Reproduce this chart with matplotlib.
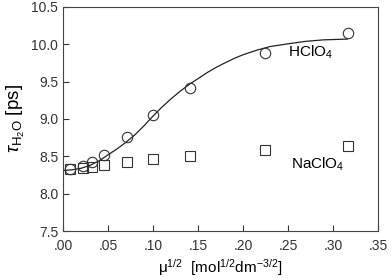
import matplotlib
matplotlib.use('Agg')
import matplotlib.pyplot as plt
from matplotlib.ticker import FuncFormatter

plt.rcParams['font.family'] = ['Liberation Sans', 'DejaVu Sans']
plt.rcParams['mathtext.fontset'] = 'custom'
plt.rcParams['mathtext.rm'] = 'Liberation Sans'
plt.rcParams['mathtext.it'] = 'Liberation Sans:italic'

# sqrt of ionic strength
mu_sqrt = [0.008, 0.022, 0.032, 0.045, 0.071, 0.100, 0.141, 0.224, 0.317]
tau_hclo4 = [8.33, 8.37, 8.42, 8.52, 8.76, 9.05, 9.41, 9.89, 10.15]
tau_naclo4 = [8.33, 8.34, 8.36, 8.39, 8.43, 8.46, 8.51, 8.59, 8.64]

# fitted curve for HClO4
fit_x = [0.0, 0.01, 0.02, 0.03, 0.04, 0.05, 0.06, 0.07, 0.08, 0.09, 0.10,
         0.11, 0.12, 0.13, 0.141, 0.15, 0.16, 0.17, 0.178, 0.19, 0.20,
         0.215, 0.23, 0.252, 0.27, 0.29, 0.316]
fit_y = [8.31, 8.32, 8.34, 8.38, 8.44, 8.52, 8.60, 8.69, 8.79, 8.91, 9.04,
         9.16, 9.27, 9.37, 9.47, 9.54, 9.62, 9.69, 9.74, 9.81, 9.86,
         9.92, 9.97, 10.01, 10.04, 10.06, 10.07]

x_ticks = [0.0, 0.05, 0.10, 0.15, 0.20, 0.25, 0.30, 0.35]
y_ticks = [7.5, 8.0, 8.5, 9.0, 9.5, 10.0, 10.5]

fig = plt.figure(figsize=(3.92, 2.79), dpi=100)
ax = fig.add_axes([0.161, 0.172, 0.803, 0.803])

ax.plot(fit_x, fit_y, color='#222222', lw=0.9)
ax.plot(mu_sqrt, tau_hclo4, 'o', ms=7.5, mfc='none', mec='#333333', mew=0.8)
ax.plot(mu_sqrt, tau_naclo4, 's', ms=7, mfc='none', mec='#333333', mew=0.8)

ax.text(0.250, 9.83, r'HClO$_4$', fontsize=11)
ax.text(0.253, 8.33, r'NaClO$_4$', fontsize=11)

ax.set_xlim(0, 0.35)
ax.set_ylim(7.5, 10.5)
ax.set_xticks(x_ticks)
ax.set_yticks(y_ticks)
ax.xaxis.set_major_formatter(FuncFormatter(lambda v, p: ('%.2f' % v)[1:]))
ax.yaxis.set_major_formatter(FuncFormatter(lambda v, p: '%.1f' % v))
ax.tick_params(direction='in', length=4, width=0.8, labelsize=10, colors='#333333')
ax.tick_params(axis='x', pad=6)
for s in ax.spines.values():
    s.set_linewidth(0.8)
    s.set_color('#444444')

ax.set_xlabel('μ$^{1/2}$  [mol$^{1/2}$dm$^{-3/2}$]', fontsize=11, labelpad=3)
ax.set_ylabel(r'$\tau_{\rm H_2O}$ [ps]', fontsize=13.5, labelpad=3)

fig.savefig('out.png', dpi=100)
